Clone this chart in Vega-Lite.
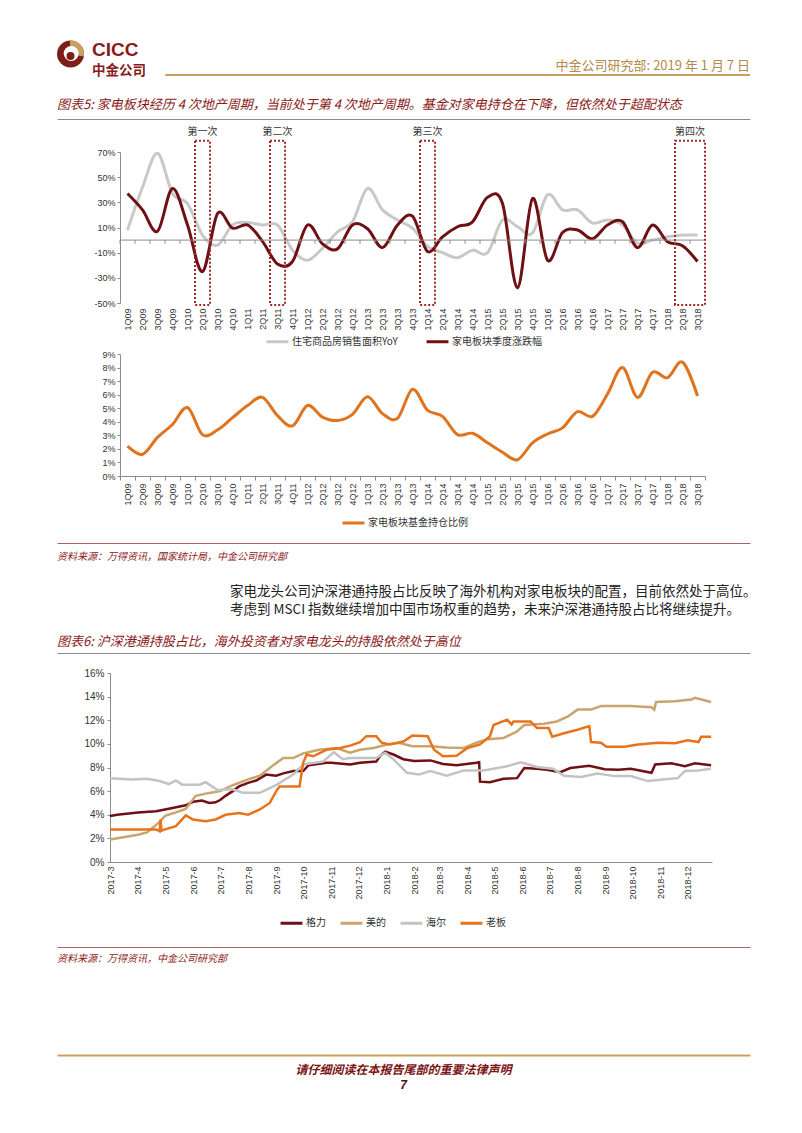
{
  "$schema": "https://vega.github.io/schema/vega-lite/v6.json",
  "background": "white",
  "padding": {"left": 57, "top": 30, "right": 10, "bottom": 10},
  "config": {
    "font": "Noto Sans CJK SC",
    "view": {"stroke": null},
    "axis": {"grid": false, "labelOverlap": false, "labelFont": "Liberation Sans", "labelFontSize": 9, "labelColor": "#333333", "domainColor": "#8c8c8c", "tickColor": "#8c8c8c"},
    "legend": {"labelFont": "Noto Sans CJK SC", "labelFontSize": 10, "labelColor": "#333333", "symbolType": "stroke", "symbolStrokeWidth": 3, "symbolSize": 480, "labelOffset": 2, "columnPadding": 22, "padding": 0},
    "title": {"font": "Noto Sans CJK SC"}
  },
  "resolve": {"scale": {"color": "independent"}, "legend": {"color": "independent"}},
  "datasets": {
    "c1": [
      {"q":"1Q09","s":"住宅商品房销售面积YoY","v":8},{"q":"2Q09","s":"住宅商品房销售面积YoY","v":42},{"q":"3Q09","s":"住宅商品房销售面积YoY","v":69},{"q":"4Q09","s":"住宅商品房销售面积YoY","v":37},
      {"q":"1Q10","s":"住宅商品房销售面积YoY","v":29},{"q":"2Q10","s":"住宅商品房销售面积YoY","v":4},{"q":"3Q10","s":"住宅商品房销售面积YoY","v":-4},{"q":"4Q10","s":"住宅商品房销售面积YoY","v":12},
      {"q":"1Q11","s":"住宅商品房销售面积YoY","v":14},{"q":"2Q11","s":"住宅商品房销售面积YoY","v":12},{"q":"3Q11","s":"住宅商品房销售面积YoY","v":12},{"q":"4Q11","s":"住宅商品房销售面积YoY","v":-8},
      {"q":"1Q12","s":"住宅商品房销售面积YoY","v":-16},{"q":"2Q12","s":"住宅商品房销售面积YoY","v":-6.5},{"q":"3Q12","s":"住宅商品房销售面积YoY","v":6.6},{"q":"4Q12","s":"住宅商品房销售面积YoY","v":14.6},
      {"q":"1Q13","s":"住宅商品房销售面积YoY","v":41},{"q":"2Q13","s":"住宅商品房销售面积YoY","v":24},{"q":"3Q13","s":"住宅商品房销售面积YoY","v":16},{"q":"4Q13","s":"住宅商品房销售面积YoY","v":9.5},
      {"q":"1Q14","s":"住宅商品房销售面积YoY","v":-5},{"q":"2Q14","s":"住宅商品房销售面积YoY","v":-10},{"q":"3Q14","s":"住宅商品房销售面积YoY","v":-14},{"q":"4Q14","s":"住宅商品房销售面积YoY","v":-8},
      {"q":"1Q15","s":"住宅商品房销售面积YoY","v":-10},{"q":"2Q15","s":"住宅商品房销售面积YoY","v":16},{"q":"3Q15","s":"住宅商品房销售面积YoY","v":10.6},{"q":"4Q15","s":"住宅商品房销售面积YoY","v":5.6},
      {"q":"1Q16","s":"住宅商品房销售面积YoY","v":36},{"q":"2Q16","s":"住宅商品房销售面积YoY","v":24},{"q":"3Q16","s":"住宅商品房销售面积YoY","v":24},{"q":"4Q16","s":"住宅商品房销售面积YoY","v":13.5},
      {"q":"1Q17","s":"住宅商品房销售面积YoY","v":16},{"q":"2Q17","s":"住宅商品房销售面积YoY","v":12},{"q":"3Q17","s":"住宅商品房销售面积YoY","v":-2.5},{"q":"4Q17","s":"住宅商品房销售面积YoY","v":0},
      {"q":"1Q18","s":"住宅商品房销售面积YoY","v":2.6},{"q":"2Q18","s":"住宅商品房销售面积YoY","v":4},{"q":"3Q18","s":"住宅商品房销售面积YoY","v":4},
      {"q":"1Q09","s":"家电板块季度涨跌幅","v":37},{"q":"2Q09","s":"家电板块季度涨跌幅","v":24},{"q":"3Q09","s":"家电板块季度涨跌幅","v":7},{"q":"4Q09","s":"家电板块季度涨跌幅","v":41},
      {"q":"1Q10","s":"家电板块季度涨跌幅","v":12},{"q":"2Q10","s":"家电板块季度涨跌幅","v":-25},{"q":"3Q10","s":"家电板块季度涨跌幅","v":21},{"q":"4Q10","s":"家电板块季度涨跌幅","v":9.5},
      {"q":"1Q11","s":"家电板块季度涨跌幅","v":12},{"q":"2Q11","s":"家电板块季度涨跌幅","v":-1},{"q":"3Q11","s":"家电板块季度涨跌幅","v":-19},{"q":"4Q11","s":"家电板块季度涨跌幅","v":-17},
      {"q":"1Q12","s":"家电板块季度涨跌幅","v":12},{"q":"2Q12","s":"家电板块季度涨跌幅","v":-3},{"q":"3Q12","s":"家电板块季度涨跌幅","v":-7},{"q":"4Q12","s":"家电板块季度涨跌幅","v":12},
      {"q":"1Q13","s":"家电板块季度涨跌幅","v":9},{"q":"2Q13","s":"家电板块季度涨跌幅","v":-6},{"q":"3Q13","s":"家电板块季度涨跌幅","v":12},{"q":"4Q13","s":"家电板块季度涨跌幅","v":19},
      {"q":"1Q14","s":"家电板块季度涨跌幅","v":-9},{"q":"2Q14","s":"家电板块季度涨跌幅","v":2.6},{"q":"3Q14","s":"家电板块季度涨跌幅","v":10.6},{"q":"4Q14","s":"家电板块季度涨跌幅","v":14.5},
      {"q":"1Q15","s":"家电板块季度涨跌幅","v":34},{"q":"2Q15","s":"家电板块季度涨跌幅","v":29},{"q":"3Q15","s":"家电板块季度涨跌幅","v":-38},{"q":"4Q15","s":"家电板块季度涨跌幅","v":33},
      {"q":"1Q16","s":"家电板块季度涨跌幅","v":-16},{"q":"2Q16","s":"家电板块季度涨跌幅","v":6},{"q":"3Q16","s":"家电板块季度涨跌幅","v":8},{"q":"4Q16","s":"家电板块季度涨跌幅","v":1},
      {"q":"1Q17","s":"家电板块季度涨跌幅","v":12},{"q":"2Q17","s":"家电板块季度涨跌幅","v":14.6},{"q":"3Q17","s":"家电板块季度涨跌幅","v":-6},{"q":"4Q17","s":"家电板块季度涨跌幅","v":12},
      {"q":"1Q18","s":"家电板块季度涨跌幅","v":-1.3},{"q":"2Q18","s":"家电板块季度涨跌幅","v":-4.5},{"q":"3Q18","s":"家电板块季度涨跌幅","v":-17}
    ],
    "boxes": [
      {"label":"第一次","start":"2Q10","end":"2Q10"},
      {"label":"第二次","start":"3Q11","end":"3Q11"},
      {"label":"第三次","start":"1Q14","end":"1Q14"},
      {"label":"第四次","start":"2Q18","end":"3Q18"}
    ],
    "c2": [
      {"q":"1Q09","s":"家电板块基金持仓比例","v":2.2},{"q":"2Q09","s":"家电板块基金持仓比例","v":1.6},{"q":"3Q09","s":"家电板块基金持仓比例","v":2.85},{"q":"4Q09","s":"家电板块基金持仓比例","v":3.8},
      {"q":"1Q10","s":"家电板块基金持仓比例","v":5.05},{"q":"2Q10","s":"家电板块基金持仓比例","v":3.05},{"q":"3Q10","s":"家电板块基金持仓比例","v":3.4},{"q":"4Q10","s":"家电板块基金持仓比例","v":4.3},
      {"q":"1Q11","s":"家电板块基金持仓比例","v":5.2},{"q":"2Q11","s":"家电板块基金持仓比例","v":5.8},{"q":"3Q11","s":"家电板块基金持仓比例","v":4.45},{"q":"4Q11","s":"家电板块基金持仓比例","v":3.7},
      {"q":"1Q12","s":"家电板块基金持仓比例","v":5.2},{"q":"2Q12","s":"家电板块基金持仓比例","v":4.35},{"q":"3Q12","s":"家电板块基金持仓比例","v":4.1},{"q":"4Q12","s":"家电板块基金持仓比例","v":4.55},
      {"q":"1Q13","s":"家电板块基金持仓比例","v":5.85},{"q":"2Q13","s":"家电板块基金持仓比例","v":4.6},{"q":"3Q13","s":"家电板块基金持仓比例","v":4.25},{"q":"4Q13","s":"家电板块基金持仓比例","v":6.4},
      {"q":"1Q14","s":"家电板块基金持仓比例","v":4.85},{"q":"2Q14","s":"家电板块基金持仓比例","v":4.4},{"q":"3Q14","s":"家电板块基金持仓比例","v":3.05},{"q":"4Q14","s":"家电板块基金持仓比例","v":3.15},
      {"q":"1Q15","s":"家电板块基金持仓比例","v":2.45},{"q":"2Q15","s":"家电板块基金持仓比例","v":1.75},{"q":"3Q15","s":"家电板块基金持仓比例","v":1.2},{"q":"4Q15","s":"家电板块基金持仓比例","v":2.45},
      {"q":"1Q16","s":"家电板块基金持仓比例","v":3.1},{"q":"2Q16","s":"家电板块基金持仓比例","v":3.55},{"q":"3Q16","s":"家电板块基金持仓比例","v":4.75},{"q":"4Q16","s":"家电板块基金持仓比例","v":4.4},
      {"q":"1Q17","s":"家电板块基金持仓比例","v":6.05},{"q":"2Q17","s":"家电板块基金持仓比例","v":8.0},{"q":"3Q17","s":"家电板块基金持仓比例","v":5.8},{"q":"4Q17","s":"家电板块基金持仓比例","v":7.65},
      {"q":"1Q18","s":"家电板块基金持仓比例","v":7.25},{"q":"2Q18","s":"家电板块基金持仓比例","v":8.4},{"q":"3Q18","s":"家电板块基金持仓比例","v":5.9}
    ],
    "c3": [
      {"d":"2017-03-01","s":"格力","v":3.9},{"d":"2017-03-09","s":"格力","v":4.0},{"d":"2017-04-01","s":"格力","v":4.2},{"d":"2017-04-21","s":"格力","v":4.3},{"d":"2017-05-01","s":"格力","v":4.45},{"d":"2017-05-24","s":"格力","v":4.8},{"d":"2017-06-01","s":"格力","v":5.1},{"d":"2017-06-11","s":"格力","v":5.2},{"d":"2017-06-19","s":"格力","v":5.0},{"d":"2017-06-26","s":"格力","v":5.05},{"d":"2017-07-01","s":"格力","v":5.25},{"d":"2017-07-07","s":"格力","v":5.6},{"d":"2017-07-15","s":"格力","v":6.0},{"d":"2017-07-22","s":"格力","v":6.4},{"d":"2017-08-01","s":"格力","v":6.7},{"d":"2017-08-10","s":"格力","v":6.9},{"d":"2017-08-21","s":"格力","v":7.4},{"d":"2017-09-01","s":"格力","v":7.3},{"d":"2017-09-09","s":"格力","v":7.5},{"d":"2017-09-20","s":"格力","v":7.7},{"d":"2017-10-01","s":"格力","v":7.7},{"d":"2017-10-07","s":"格力","v":8.2},{"d":"2017-10-27","s":"格力","v":8.4},{"d":"2017-11-01","s":"格力","v":8.4},{"d":"2017-11-22","s":"格力","v":8.25},{"d":"2017-12-03","s":"格力","v":8.4},{"d":"2017-12-21","s":"格力","v":8.5},{"d":"2017-12-25","s":"格力","v":8.95},{"d":"2017-12-31","s":"格力","v":9.35},{"d":"2018-01-09","s":"格力","v":9.1},{"d":"2018-01-20","s":"格力","v":8.7},{"d":"2018-02-01","s":"格力","v":8.55},{"d":"2018-02-19","s":"格力","v":8.6},{"d":"2018-03-05","s":"格力","v":8.3},{"d":"2018-03-20","s":"格力","v":8.2},{"d":"2018-04-11","s":"格力","v":8.4},{"d":"2018-04-14","s":"格力","v":8.45},{"d":"2018-04-15","s":"格力","v":6.8},{"d":"2018-04-26","s":"格力","v":6.75},{"d":"2018-05-11","s":"格力","v":7.05},{"d":"2018-05-26","s":"格力","v":7.1},{"d":"2018-06-03","s":"格力","v":7.95},{"d":"2018-06-17","s":"格力","v":7.9},{"d":"2018-06-28","s":"格力","v":7.8},{"d":"2018-07-13","s":"格力","v":7.6},{"d":"2018-07-24","s":"格力","v":7.95},{"d":"2018-08-14","s":"格力","v":8.15},{"d":"2018-08-31","s":"格力","v":7.85},{"d":"2018-09-15","s":"格力","v":7.8},{"d":"2018-09-29","s":"格力","v":7.9},{"d":"2018-10-22","s":"格力","v":7.55},{"d":"2018-10-26","s":"格力","v":8.25},{"d":"2018-11-13","s":"格力","v":8.35},{"d":"2018-11-28","s":"格力","v":8.1},{"d":"2018-12-09","s":"格力","v":8.35},{"d":"2018-12-27","s":"格力","v":8.2},
      {"d":"2017-03-01","s":"美的","v":1.9},{"d":"2017-04-01","s":"美的","v":2.3},{"d":"2017-04-11","s":"美的","v":2.5},{"d":"2017-04-25","s":"美的","v":3.4},{"d":"2017-05-01","s":"美的","v":3.9},{"d":"2017-05-13","s":"美的","v":4.2},{"d":"2017-05-24","s":"美的","v":4.5},{"d":"2017-06-04","s":"美的","v":5.6},{"d":"2017-06-19","s":"美的","v":5.85},{"d":"2017-07-01","s":"美的","v":6.0},{"d":"2017-07-15","s":"美的","v":6.5},{"d":"2017-08-01","s":"美的","v":7.0},{"d":"2017-08-14","s":"美的","v":7.3},{"d":"2017-08-29","s":"美的","v":8.2},{"d":"2017-09-09","s":"美的","v":8.8},{"d":"2017-09-20","s":"美的","v":8.8},{"d":"2017-10-01","s":"美的","v":9.2},{"d":"2017-10-19","s":"美的","v":9.5},{"d":"2017-11-07","s":"美的","v":9.65},{"d":"2017-11-22","s":"美的","v":9.25},{"d":"2017-12-03","s":"美的","v":9.5},{"d":"2017-12-18","s":"美的","v":9.65},{"d":"2018-01-02","s":"美的","v":9.95},{"d":"2018-01-15","s":"美的","v":10.1},{"d":"2018-01-30","s":"美的","v":9.8},{"d":"2018-02-19","s":"美的","v":9.8},{"d":"2018-03-09","s":"美的","v":9.7},{"d":"2018-03-28","s":"美的","v":9.65},{"d":"2018-04-11","s":"美的","v":10.1},{"d":"2018-04-23","s":"美的","v":10.4},{"d":"2018-05-11","s":"美的","v":10.5},{"d":"2018-05-26","s":"美的","v":11.05},{"d":"2018-06-03","s":"美的","v":11.6},{"d":"2018-06-25","s":"美的","v":11.7},{"d":"2018-07-09","s":"美的","v":11.9},{"d":"2018-07-21","s":"美的","v":12.3},{"d":"2018-08-01","s":"美的","v":12.9},{"d":"2018-08-16","s":"美的","v":12.9},{"d":"2018-08-27","s":"美的","v":13.2},{"d":"2018-09-29","s":"美的","v":13.2},{"d":"2018-10-22","s":"美的","v":13.1},{"d":"2018-10-25","s":"美的","v":12.9},{"d":"2018-10-27","s":"美的","v":13.55},{"d":"2018-11-17","s":"美的","v":13.6},{"d":"2018-12-05","s":"美的","v":13.75},{"d":"2018-12-09","s":"美的","v":13.9},{"d":"2018-12-27","s":"美的","v":13.55},
      {"d":"2017-03-01","s":"海尔","v":7.1},{"d":"2017-03-25","s":"海尔","v":6.98},{"d":"2017-04-11","s":"海尔","v":7.04},{"d":"2017-04-25","s":"海尔","v":6.85},{"d":"2017-05-05","s":"海尔","v":6.6},{"d":"2017-05-13","s":"海尔","v":6.9},{"d":"2017-05-20","s":"海尔","v":6.55},{"d":"2017-06-08","s":"海尔","v":6.55},{"d":"2017-06-15","s":"海尔","v":6.75},{"d":"2017-06-22","s":"海尔","v":6.4},{"d":"2017-06-28","s":"海尔","v":6.1},{"d":"2017-07-15","s":"海尔","v":6.15},{"d":"2017-07-26","s":"海尔","v":5.86},{"d":"2017-08-14","s":"海尔","v":5.86},{"d":"2017-09-02","s":"海尔","v":6.55},{"d":"2017-09-20","s":"海尔","v":7.4},{"d":"2017-10-01","s":"海尔","v":8.25},{"d":"2017-10-23","s":"海尔","v":8.5},{"d":"2017-11-04","s":"海尔","v":9.3},{"d":"2017-11-14","s":"海尔","v":8.7},{"d":"2017-11-22","s":"海尔","v":8.8},{"d":"2017-12-21","s":"海尔","v":8.8},{"d":"2017-12-31","s":"海尔","v":9.25},{"d":"2018-01-09","s":"海尔","v":8.7},{"d":"2018-01-24","s":"海尔","v":7.55},{"d":"2018-02-06","s":"海尔","v":7.4},{"d":"2018-02-19","s":"海尔","v":7.7},{"d":"2018-03-09","s":"海尔","v":7.3},{"d":"2018-03-28","s":"海尔","v":7.75},{"d":"2018-04-19","s":"海尔","v":7.75},{"d":"2018-05-15","s":"海尔","v":8.1},{"d":"2018-05-30","s":"海尔","v":8.45},{"d":"2018-06-17","s":"海尔","v":8.05},{"d":"2018-07-05","s":"海尔","v":7.9},{"d":"2018-07-17","s":"海尔","v":7.3},{"d":"2018-08-05","s":"海尔","v":7.2},{"d":"2018-08-23","s":"海尔","v":7.5},{"d":"2018-09-11","s":"海尔","v":7.27},{"d":"2018-09-29","s":"海尔","v":7.27},{"d":"2018-10-18","s":"海尔","v":6.85},{"d":"2018-11-06","s":"海尔","v":7.0},{"d":"2018-11-20","s":"海尔","v":7.1},{"d":"2018-11-28","s":"海尔","v":7.7},{"d":"2018-12-13","s":"海尔","v":7.75},{"d":"2018-12-27","s":"海尔","v":7.9},
      {"d":"2017-03-01","s":"老板","v":2.76},{"d":"2017-04-21","s":"老板","v":2.76},{"d":"2017-04-25","s":"老板","v":2.6},{"d":"2017-04-26","s":"老板","v":3.6},{"d":"2017-04-27","s":"老板","v":2.65},{"d":"2017-05-01","s":"老板","v":2.76},{"d":"2017-05-13","s":"老板","v":3.04},{"d":"2017-05-24","s":"老板","v":3.95},{"d":"2017-06-01","s":"老板","v":3.6},{"d":"2017-06-15","s":"老板","v":3.45},{"d":"2017-06-26","s":"老板","v":3.6},{"d":"2017-07-07","s":"老板","v":4.0},{"d":"2017-07-22","s":"老板","v":4.15},{"d":"2017-08-01","s":"老板","v":4.0},{"d":"2017-08-14","s":"老板","v":4.45},{"d":"2017-08-25","s":"老板","v":5.0},{"d":"2017-09-02","s":"老板","v":6.1},{"d":"2017-09-05","s":"老板","v":6.4},{"d":"2017-09-27","s":"老板","v":6.4},{"d":"2017-10-01","s":"老板","v":8.4},{"d":"2017-10-05","s":"老板","v":9.1},{"d":"2017-10-12","s":"老板","v":8.95},{"d":"2017-10-27","s":"老板","v":9.5},{"d":"2017-11-11","s":"老板","v":9.65},{"d":"2017-11-22","s":"老板","v":9.85},{"d":"2017-12-03","s":"老板","v":10.15},{"d":"2017-12-10","s":"老板","v":10.65},{"d":"2017-12-21","s":"老板","v":10.65},{"d":"2017-12-27","s":"老板","v":10.1},{"d":"2018-01-05","s":"老板","v":9.95},{"d":"2018-01-20","s":"老板","v":10.2},{"d":"2018-01-30","s":"老板","v":10.7},{"d":"2018-02-16","s":"老板","v":10.65},{"d":"2018-02-23","s":"老板","v":9.5},{"d":"2018-03-05","s":"老板","v":8.95},{"d":"2018-03-20","s":"老板","v":9.0},{"d":"2018-04-01","s":"老板","v":9.65},{"d":"2018-04-15","s":"老板","v":9.95},{"d":"2018-04-26","s":"老板","v":10.65},{"d":"2018-04-30","s":"老板","v":11.6},{"d":"2018-05-15","s":"老板","v":12.05},{"d":"2018-05-20","s":"老板","v":11.65},{"d":"2018-05-22","s":"老板","v":11.9},{"d":"2018-06-10","s":"老板","v":11.9},{"d":"2018-06-17","s":"老板","v":11.35},{"d":"2018-06-30","s":"老板","v":11.35},{"d":"2018-07-04","s":"老板","v":10.6},{"d":"2018-07-17","s":"老板","v":10.9},{"d":"2018-08-01","s":"老板","v":11.2},{"d":"2018-08-14","s":"老板","v":11.5},{"d":"2018-08-16","s":"老板","v":10.15},{"d":"2018-08-27","s":"老板","v":10.1},{"d":"2018-09-02","s":"老板","v":9.75},{"d":"2018-09-22","s":"老板","v":9.75},{"d":"2018-10-07","s":"老板","v":9.95},{"d":"2018-10-29","s":"老板","v":10.1},{"d":"2018-11-17","s":"老板","v":10.05},{"d":"2018-12-01","s":"老板","v":10.3},{"d":"2018-12-13","s":"老板","v":10.15},{"d":"2018-12-16","s":"老板","v":10.6},{"d":"2018-12-27","s":"老板","v":10.6}
    ]
  },
  "columns": 1,
  "spacing": 0,
  "align": "none",
  "concat": [
    {
      "width": 693, "height": 69,
      "data": {"values": [{}]},
      "layer": [
        {"mark": {"type": "arc", "radius": 13.5, "theta": 0, "theta2": 6.2832, "color": "#7e1d1a"},
         "encoding": {"x": {"datum": 0.0195, "type": "quantitative", "scale": {"domain": [0, 1]}, "axis": null}, "y": {"datum": 0.652, "type": "quantitative", "scale": {"domain": [0, 1]}, "axis": null}}},
        {"mark": {"type": "arc", "radius": 13.5, "theta": -0.05, "theta2": 1.75, "color": "#c9a063"},
         "encoding": {"x": {"datum": 0.0195, "type": "quantitative", "axis": null}, "y": {"datum": 0.652, "type": "quantitative", "axis": null}}},
        {"mark": {"type": "arc", "radius": 7.5, "theta": 0, "theta2": 6.2832, "color": "#ffffff"},
         "encoding": {"x": {"datum": 0.0205, "type": "quantitative", "axis": null}, "y": {"datum": 0.66, "type": "quantitative", "axis": null}}},
        {"mark": {"type": "arc", "radius": 4, "theta": 0, "theta2": 6.2832, "color": "#7e1d1a"},
         "encoding": {"x": {"datum": 0.0195, "type": "quantitative", "axis": null}, "y": {"datum": 0.625, "type": "quantitative", "axis": null}}},
        {"mark": {"type": "text", "text": "CICC", "align": "left", "baseline": "alphabetic", "font": "Liberation Sans", "fontWeight": "bold", "fontSize": 19, "color": "#8b1a1a"},
         "encoding": {"x": {"datum": 0.0505, "type": "quantitative", "axis": null}, "y": {"datum": 0.623, "type": "quantitative", "axis": null}}},
        {"mark": {"type": "text", "text": "中金公司", "align": "left", "baseline": "alphabetic", "font": "Noto Sans CJK SC", "fontWeight": "bold", "fontSize": 13.5, "color": "#8b1a1a"},
         "encoding": {"x": {"datum": 0.0505, "type": "quantitative", "axis": null}, "y": {"datum": 0.341, "type": "quantitative", "axis": null}}},
        {"mark": {"type": "text", "text": "中金公司研究部: 2019 年 1 月 7 日", "align": "right", "baseline": "alphabetic", "font": "Noto Sans CJK SC", "fontSize": 13, "color": "#b58a4c"},
         "encoding": {"x": {"datum": 1, "type": "quantitative", "axis": null}, "y": {"datum": 0.42, "type": "quantitative", "axis": null}}},
        {"mark": {"type": "rule", "color": "#c9a063", "strokeWidth": 2},
         "encoding": {"x": {"datum": 0.156, "type": "quantitative", "axis": null}, "x2": {"datum": 1}, "y": {"datum": 0.348, "type": "quantitative", "axis": null}}}
      ]
    },
    {
      "width": 693, "height": 7,
      "data": {"values": [{}]},
      "mark": {"type": "rule", "opacity": 0},
      "encoding": {"x": {"datum": 0, "type": "quantitative", "scale": {"domain": [0, 1]}, "axis": {"orient": "top", "labels": false, "ticks": false, "title": null, "domainColor": "#8c8c8c", "domainWidth": 1}}},
      "title": {"text": "图表5: 家电板块经历 4 次地产周期，当前处于第 4 次地产周期。基金对家电持仓在下降，但依然处于超配状态", "anchor": "start", "frame": "bounds", "orient": "top", "offset": 7, "fontSize": 13, "fontStyle": "italic", "fontWeight": "normal", "color": "#8b1a1a"}
    },
    {
      "spacing": 0,
      "hconcat": [
        {"width": 33, "height": 1, "data": {"values": []}, "mark": "point"},
        {
          "width": 585, "height": 151,
          "data": {"name": "c1"},
          "layer": [
            {"mark": {"type": "line", "interpolate": "cardinal", "strokeWidth": 3},
             "encoding": {
               "x": {"field": "q", "type": "ordinal", "scale": {"type": "band", "paddingInner": 0, "paddingOuter": 0, "domain": ["1Q09","2Q09","3Q09","4Q09","1Q10","2Q10","3Q10","4Q10","1Q11","2Q11","3Q11","4Q11","1Q12","2Q12","3Q12","4Q12","1Q13","2Q13","3Q13","4Q13","1Q14","2Q14","3Q14","4Q14","1Q15","2Q15","3Q15","4Q15","1Q16","2Q16","3Q16","4Q16","1Q17","2Q17","3Q17","4Q17","1Q18","2Q18","3Q18"]},
                     "axis": {"orient": "bottom", "domain": false, "ticks": false, "labelAngle": 270, "labelPadding": 5, "labelOverlap": false, "title": null}},
               "y": {"field": "v", "type": "quantitative", "scale": {"domain": [-50, 70], "nice": false, "zero": false},
                     "axis": {"values": [-50, -30, -10, 10, 30, 50, 70], "labelExpr": "datum.value + '%'", "labelOverlap": false, "title": null, "tickSize": 3, "labelPadding": 2, "minExtent": 30, "maxExtent": 30}},
               "color": {"field": "s", "type": "nominal", "scale": {"domain": ["住宅商品房销售面积YoY", "家电板块季度涨跌幅"], "range": ["#c8c8c8", "#6e1014"]},
                         "legend": {"orient": "none", "legendX": 206, "legendY": 175, "padding": 2, "direction": "horizontal", "title": null}},
               "order": {"value": null}
             }},
            {"data": {"values": [{}]}, "mark": {"type": "rule", "color": "#8c8c8c", "strokeWidth": 1},
             "encoding": {"y": {"datum": 0, "type": "quantitative", "axis": {"values": [-50, -30, -10, 10, 30, 50, 70], "labelExpr": "datum.value + '%'", "labelOverlap": false, "title": null, "tickSize": 3, "labelPadding": 2, "minExtent": 30, "maxExtent": 30}}}},
            {"transform": [{"filter": "datum.s === '家电板块季度涨跌幅'"}],
             "mark": {"type": "rule", "color": "#8c8c8c", "strokeWidth": 1},
             "encoding": {"x": {"field": "q", "type": "ordinal", "bandPosition": 0, "axis": {"orient": "bottom", "domain": false, "ticks": false, "labelAngle": 270, "labelPadding": 5, "labelOverlap": false, "title": null}},
                          "y": {"datum": 0, "type": "quantitative", "axis": {"values": [-50, -30, -10, 10, 30, 50, 70], "labelExpr": "datum.value + '%'", "labelOverlap": false, "title": null, "tickSize": 3, "labelPadding": 2, "minExtent": 30, "maxExtent": 30}}, "y2": {"datum": -3}}},
            {"data": {"name": "boxes"},
             "mark": {"type": "rect", "filled": false, "stroke": "#a3262a", "strokeWidth": 2, "strokeDash": [2, 2]},
             "encoding": {"x": {"field": "start", "type": "ordinal", "bandPosition": 0, "axis": {"orient": "bottom", "domain": false, "ticks": false, "labelAngle": 270, "labelPadding": 5, "labelOverlap": false, "title": null}}, "x2": {"field": "end", "bandPosition": 1},
                          "y": {"datum": 79, "type": "quantitative", "axis": {"values": [-50, -30, -10, 10, 30, 50, 70], "labelExpr": "datum.value + '%'", "labelOverlap": false, "title": null, "tickSize": 3, "labelPadding": 2, "minExtent": 30, "maxExtent": 30}}, "y2": {"datum": -51.5}}},
            {"data": {"name": "boxes"}, "transform": [{"filter": "datum.label !== '第四次'"}],
             "mark": {"type": "text", "fontSize": 10, "color": "#333333", "baseline": "middle"},
             "encoding": {"x": {"field": "start", "type": "ordinal", "axis": {"orient": "bottom", "domain": false, "ticks": false, "labelAngle": 270, "labelPadding": 5, "labelOverlap": false, "title": null}},
                          "y": {"datum": 86, "type": "quantitative", "axis": {"values": [-50, -30, -10, 10, 30, 50, 70], "labelExpr": "datum.value + '%'", "labelOverlap": false, "title": null, "tickSize": 3, "labelPadding": 2, "minExtent": 30, "maxExtent": 30}}, "text": {"field": "label"}}},
            {"data": {"name": "boxes"}, "transform": [{"filter": "datum.label === '第四次'"}],
             "mark": {"type": "text", "fontSize": 10, "color": "#333333", "baseline": "middle"},
             "encoding": {"x": {"field": "end", "type": "ordinal", "bandPosition": 0, "axis": {"orient": "bottom", "domain": false, "ticks": false, "labelAngle": 270, "labelPadding": 5, "labelOverlap": false, "title": null}},
                          "y": {"datum": 86, "type": "quantitative", "axis": {"values": [-50, -30, -10, 10, 30, 50, 70], "labelExpr": "datum.value + '%'", "labelOverlap": false, "title": null, "tickSize": 3, "labelPadding": 2, "minExtent": 30, "maxExtent": 30}}, "text": {"field": "label"}}}
          ]
        }
      ]
    },
    {
      "spacing": 0,
      "hconcat": [
        {"width": 33, "height": 1, "data": {"values": []}, "mark": "point"},
        {
          "width": 585, "height": 122,
          "data": {"name": "c2"},
          "mark": {"type": "line", "interpolate": "cardinal", "strokeWidth": 3},
          "encoding": {
            "x": {"field": "q", "type": "ordinal", "scale": {"type": "band", "paddingInner": 0, "paddingOuter": 0, "domain": ["1Q09","2Q09","3Q09","4Q09","1Q10","2Q10","3Q10","4Q10","1Q11","2Q11","3Q11","4Q11","1Q12","2Q12","3Q12","4Q12","1Q13","2Q13","3Q13","4Q13","1Q14","2Q14","3Q14","4Q14","1Q15","2Q15","3Q15","4Q15","1Q16","2Q16","3Q16","4Q16","1Q17","2Q17","3Q17","4Q17","1Q18","2Q18","3Q18"]},
                  "axis": {"labelAngle": 270, "tickBand": "extent", "tickSize": 4, "labelPadding": 3, "title": null}},
            "y": {"field": "v", "type": "quantitative", "scale": {"domain": [0, 9], "nice": false},
                  "axis": {"values": [0, 1, 2, 3, 4, 5, 6, 7, 8, 9], "labelExpr": "datum.value + '%'", "labelOverlap": false, "title": null, "tickSize": 3, "labelPadding": 2, "minExtent": 30, "maxExtent": 30}},
            "color": {"field": "s", "type": "nominal", "scale": {"domain": ["家电板块基金持仓比例"], "range": ["#e0741e"]},
                      "legend": {"orient": "none", "legendX": 284, "legendY": 156.5, "direction": "horizontal", "title": null}},
            "order": {"value": null}
          }
        }
      ]
    },
    {
      "width": 693, "height": 13,
      "data": {"values": [{}]},
      "mark": {"type": "rule", "opacity": 0},
      "encoding": {"x": {"datum": 0, "type": "quantitative", "scale": {"domain": [0, 1]}, "axis": {"orient": "bottom", "labels": false, "ticks": false, "title": null, "domainColor": "#a86464", "domainWidth": 1}}},
      "title": {"text": "资料来源：万得资讯，国家统计局，中金公司研究部", "anchor": "start", "frame": "bounds", "orient": "bottom", "offset": 9, "fontSize": 10, "fontStyle": "italic", "fontWeight": "normal", "color": "#8b1a1a"}
    },
    {
      "width": 693, "height": 23,
      "data": {"values": []},
      "mark": "point",
      "title": {"text": ["家电龙头公司沪深港通持股占比反映了海外机构对家电板块的配置，目前依然处于高位。", "考虑到 MSCI 指数继续增加中国市场权重的趋势，未来沪深港通持股占比将继续提升。"], "anchor": "start", "frame": "bounds", "orient": "bottom", "offset": 0, "dx": 173, "lineHeight": 18, "fontSize": 13.5, "fontWeight": "normal", "color": "#222222"}
    },
    {
      "width": 693, "height": 19,
      "data": {"values": []},
      "mark": "point"
    },
    {
      "width": 693, "height": 15,
      "data": {"values": [{}]},
      "mark": {"type": "rule", "opacity": 0},
      "encoding": {"x": {"datum": 0, "type": "quantitative", "scale": {"domain": [0, 1]}, "axis": {"orient": "top", "labels": false, "ticks": false, "title": null, "domainColor": "#8c8c8c", "domainWidth": 1}}},
      "title": {"text": "图表6: 沪深港通持股占比，海外投资者对家电龙头的持股依然处于高位", "anchor": "start", "frame": "bounds", "orient": "top", "offset": 4, "fontSize": 13, "fontStyle": "italic", "fontWeight": "normal", "color": "#8b1a1a"}
    },
    {
      "spacing": 0,
      "hconcat": [
        {"width": 23, "height": 1, "data": {"values": []}, "mark": "point"},
        {
          "width": 602, "height": 189,
          "data": {"name": "c3"},
          "mark": {"type": "line", "strokeWidth": 2.5},
          "encoding": {
            "x": {"field": "d", "type": "temporal", "scale": {"type": "utc", "domain": [{"year": 2017, "month": 3, "date": 1, "utc": true}, {"year": 2018, "month": 12, "date": 28, "utc": true}]},
                  "axis": {"format": "%Y-%-m", "tickCount": {"interval": "month", "step": 1}, "labelAngle": 270, "ticks": false, "labelPadding": 4, "labelFlush": false, "labelOverlap": false, "title": null}},
            "y": {"field": "v", "type": "quantitative", "scale": {"domain": [0, 16], "nice": false},
                  "axis": {"values": [0, 2, 4, 6, 8, 10, 12, 14, 16], "labelExpr": "datum.value + '%'", "labelOverlap": false, "title": null, "tickSize": 3, "labelPadding": 3, "labelFontSize": 10, "minExtent": 30, "maxExtent": 30}},
            "color": {"field": "s", "type": "nominal", "scale": {"domain": ["格力", "美的", "海尔", "老板"], "range": ["#6e1014", "#c9a46e", "#c3c3c3", "#e8731c"]},
                      "legend": {"orient": "none", "legendX": 222, "legendY": 237.5, "columnPadding": 8, "direction": "horizontal", "title": null}}
          }
        }
      ]
    },
    {
      "width": 693, "height": 17,
      "data": {"values": [{}]},
      "mark": {"type": "rule", "opacity": 0},
      "encoding": {"x": {"datum": 0, "type": "quantitative", "scale": {"domain": [0, 1]}, "axis": {"orient": "bottom", "labels": false, "ticks": false, "title": null, "domainColor": "#a86464", "domainWidth": 1}}},
      "title": {"text": "资料来源：万得资讯，中金公司研究部", "anchor": "start", "frame": "bounds", "orient": "bottom", "offset": 7, "fontSize": 10, "fontStyle": "italic", "fontWeight": "normal", "color": "#8b1a1a"}
    },
    {
      "width": 693, "height": 91,
      "data": {"values": [{}]},
      "mark": {"type": "rule", "opacity": 0},
      "encoding": {"x": {"datum": 0, "type": "quantitative", "scale": {"domain": [0, 1]}, "axis": {"orient": "bottom", "labels": false, "ticks": false, "title": null, "domainColor": "#c9a063", "domainWidth": 2}}},
      "title": {"text": "请仔细阅读在本报告尾部的重要法律声明", "subtitle": "7", "anchor": "middle", "frame": "bounds", "orient": "bottom", "offset": 10, "fontSize": 12, "fontStyle": "italic", "fontWeight": "bold", "color": "#7a1414", "subtitleFontSize": 12, "subtitleFontWeight": "bold", "subtitleFontStyle": "italic", "subtitleColor": "#4a1010", "subtitleFont": "Liberation Sans", "subtitlePadding": 3}
    }
  ]
}
